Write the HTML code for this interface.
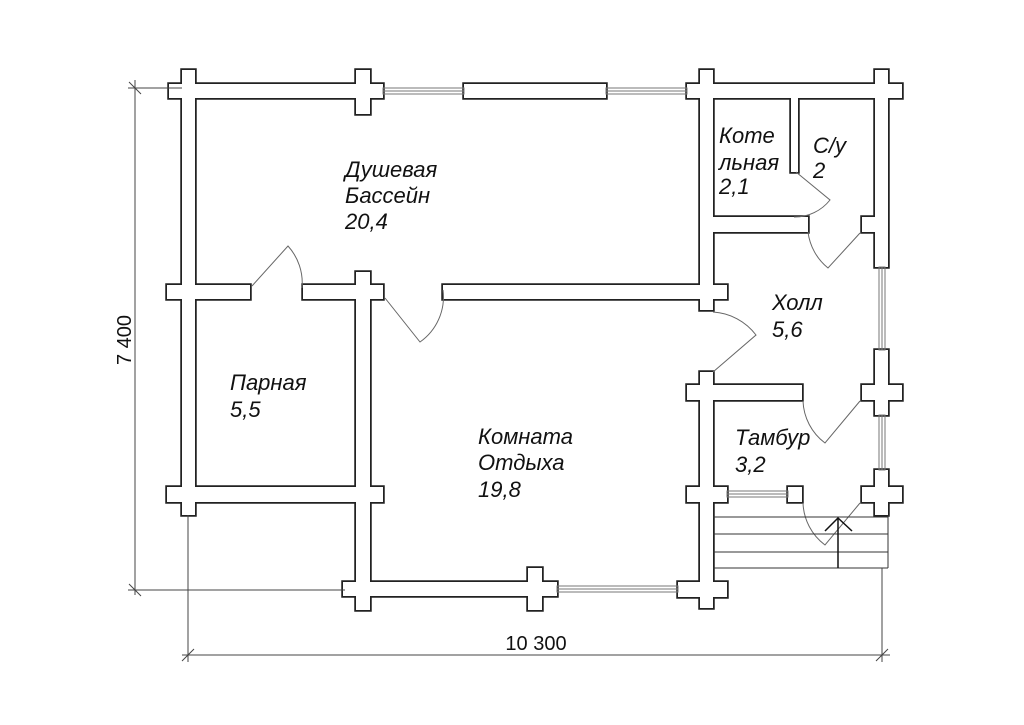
<!DOCTYPE html>
<html><head><meta charset="utf-8"><style>
html,body{margin:0;padding:0;background:#fff;}
svg{display:block;}
text{font-family:"Liberation Sans",sans-serif;font-style:italic;font-size:22px;fill:#111;}
.d{font-style:normal;font-size:20px;}
</style></head><body>
<svg width="1024" height="725" viewBox="0 0 1024 725" xmlns="http://www.w3.org/2000/svg">
<defs>
<g id="walls">
<rect x="169" y="84" width="214" height="14"/>
<rect x="182" y="70" width="13" height="445"/>
<rect x="356" y="70" width="14" height="44"/>
<rect x="464" y="84" width="142" height="14"/>
<rect x="687" y="84" width="215" height="14"/>
<rect x="700" y="70" width="13" height="240"/>
<rect x="875" y="70" width="13" height="197"/>
<rect x="791" y="97" width="7" height="75"/>
<rect x="713" y="217" width="95" height="15"/>
<rect x="862" y="217" width="13" height="15"/>
<rect x="167" y="285" width="83" height="14"/>
<rect x="303" y="285" width="80" height="14"/>
<rect x="356" y="272" width="14" height="338"/>
<rect x="443" y="285" width="284" height="14"/>
<rect x="167" y="487" width="216" height="15"/>
<rect x="700" y="372" width="13" height="236"/>
<rect x="687" y="385" width="115" height="15"/>
<rect x="875" y="350" width="13" height="65"/>
<rect x="862" y="385" width="40" height="15"/>
<rect x="875" y="470" width="13" height="45"/>
<rect x="862" y="487" width="40" height="15"/>
<rect x="687" y="487" width="40" height="15"/>
<rect x="788" y="487" width="14" height="15"/>
<rect x="343" y="582" width="214" height="14"/>
<rect x="528" y="568" width="14" height="42"/>
<rect x="678" y="582" width="49" height="15"/>
</g>
</defs>
<g fill="#222" stroke="#222" stroke-width="3.5" stroke-linejoin="miter"><use href="#walls"/></g>
<g fill="#fff" stroke="none"><use href="#walls"/></g>

<g fill="none" stroke="#777" stroke-width="1">
<rect x="383" y="88" width="81" height="6"/><line x1="383" y1="91" x2="464" y2="91"/>
<rect x="606" y="88" width="81" height="6"/><line x1="606" y1="91" x2="687" y2="91"/>
<rect x="879" y="267" width="6" height="83"/><line x1="882" y1="267" x2="882" y2="350"/>
<rect x="879" y="415" width="6" height="55"/><line x1="882" y1="415" x2="882" y2="470"/>
<rect x="727" y="491" width="61" height="6"/><line x1="727" y1="494" x2="788" y2="494"/>
<rect x="557" y="586" width="121" height="6"/><line x1="557" y1="589" x2="678" y2="589"/>
</g>

<g fill="none" stroke="#666" stroke-width="1">
<path d="M252 286 L288 246 A55 55 0 0 1 302 288"/>
<path d="M385 298 L420 342 A55 55 0 0 0 443 290"/>
<path d="M796 172 L830 200 A45 45 0 0 1 794 217"/>
<path d="M860 233 L828 268 A55 55 0 0 1 808 232"/>
<path d="M713 372 L756 335 A58 58 0 0 0 713 312"/>
<path d="M860 401 L825 443 A55 55 0 0 1 803 401"/>
<path d="M860 503 L825 545 A55 55 0 0 1 803 503"/>
</g>

<g stroke="#333" stroke-width="1" fill="none">
<line x1="713" y1="517" x2="888" y2="517"/>
<line x1="713" y1="534" x2="888" y2="534"/>
<line x1="713" y1="552" x2="888" y2="552"/>
<line x1="713" y1="568" x2="888" y2="568"/>
<line x1="888" y1="515" x2="888" y2="568"/>
</g>
<g stroke="#111" stroke-width="1.5" fill="none">
<line x1="838" y1="568" x2="838" y2="518"/>
<path d="M825 531 L838 518 L852 531"/>
</g>

<g stroke="#444" stroke-width="1" fill="none">
<line x1="135" y1="80" x2="135" y2="595"/>
<line x1="128" y1="88" x2="182" y2="88"/>
<line x1="128" y1="590" x2="345" y2="590"/>
<line x1="129" y1="82" x2="141" y2="94"/>
<line x1="129" y1="584" x2="141" y2="596"/>
<line x1="188" y1="515" x2="188" y2="662"/>
<line x1="882" y1="568" x2="882" y2="662"/>
<line x1="182" y1="655" x2="890" y2="655"/>
<line x1="182" y1="661" x2="194" y2="649"/>
<line x1="876" y1="661" x2="888" y2="649"/>
</g>
<text class="d" x="536" y="650" text-anchor="middle">10 300</text>
<text class="d" transform="translate(131 340) rotate(-90)" text-anchor="middle">7 400</text>

<text x="345" y="177">Душевая</text>
<text x="345" y="203">Бассейн</text>
<text x="345" y="229">20,4</text>
<text x="719" y="143">Коте</text>
<text x="719" y="170">льная</text>
<text x="719" y="194">2,1</text>
<text x="813" y="153">С/у</text>
<text x="813" y="178">2</text>
<text x="772" y="310">Холл</text>
<text x="772" y="337">5,6</text>
<text x="230" y="390">Парная</text>
<text x="230" y="417">5,5</text>
<text x="478" y="444">Комната</text>
<text x="478" y="470">Отдыха</text>
<text x="478" y="497">19,8</text>
<text x="735" y="445">Тамбур</text>
<text x="735" y="472">3,2</text>
</svg>
</body></html>
